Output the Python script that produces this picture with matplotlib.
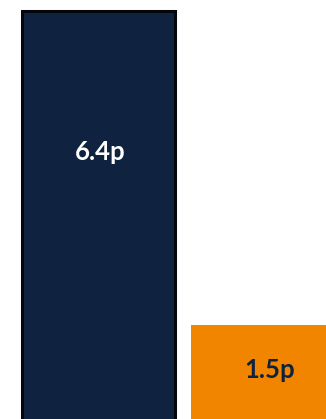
import matplotlib.pyplot as plt

labels = ['6.4p', '1.5p']
values = [6.4, 1.5]
colors = ['#0f2240', '#f28500']
text_colors = ['white', '#0f2240']


def main():
    fig = plt.figure(figsize=(3.26, 4.19), dpi=100)
    ax = fig.add_axes([0, 0, 1, 1])

    bars = ax.bar(range(len(values)), values, width=0.905, color=colors)
    bars[0].set_edgecolor('#05060c')
    bars[0].set_linewidth(2.2)

    # label heights as share of each bar
    label_pos = [0.655, 0.53]
    for i, (v, lab) in enumerate(zip(values, labels)):
        ax.text(i + 0.01, v * label_pos[i], lab, ha='center', va='center',
                fontsize=18.5, fontweight='bold', color=text_colors[i],
                family=['Lato', 'DejaVu Sans'])

    # bars run past the bottom edge, as in the original crop
    ax.set_xlim(-0.583, 1.346)
    ax.set_ylim(0.03, 6.572)
    ax.axis('off')

    fig.savefig('out.png', dpi=100)


if __name__ == "__main__":
    main()
